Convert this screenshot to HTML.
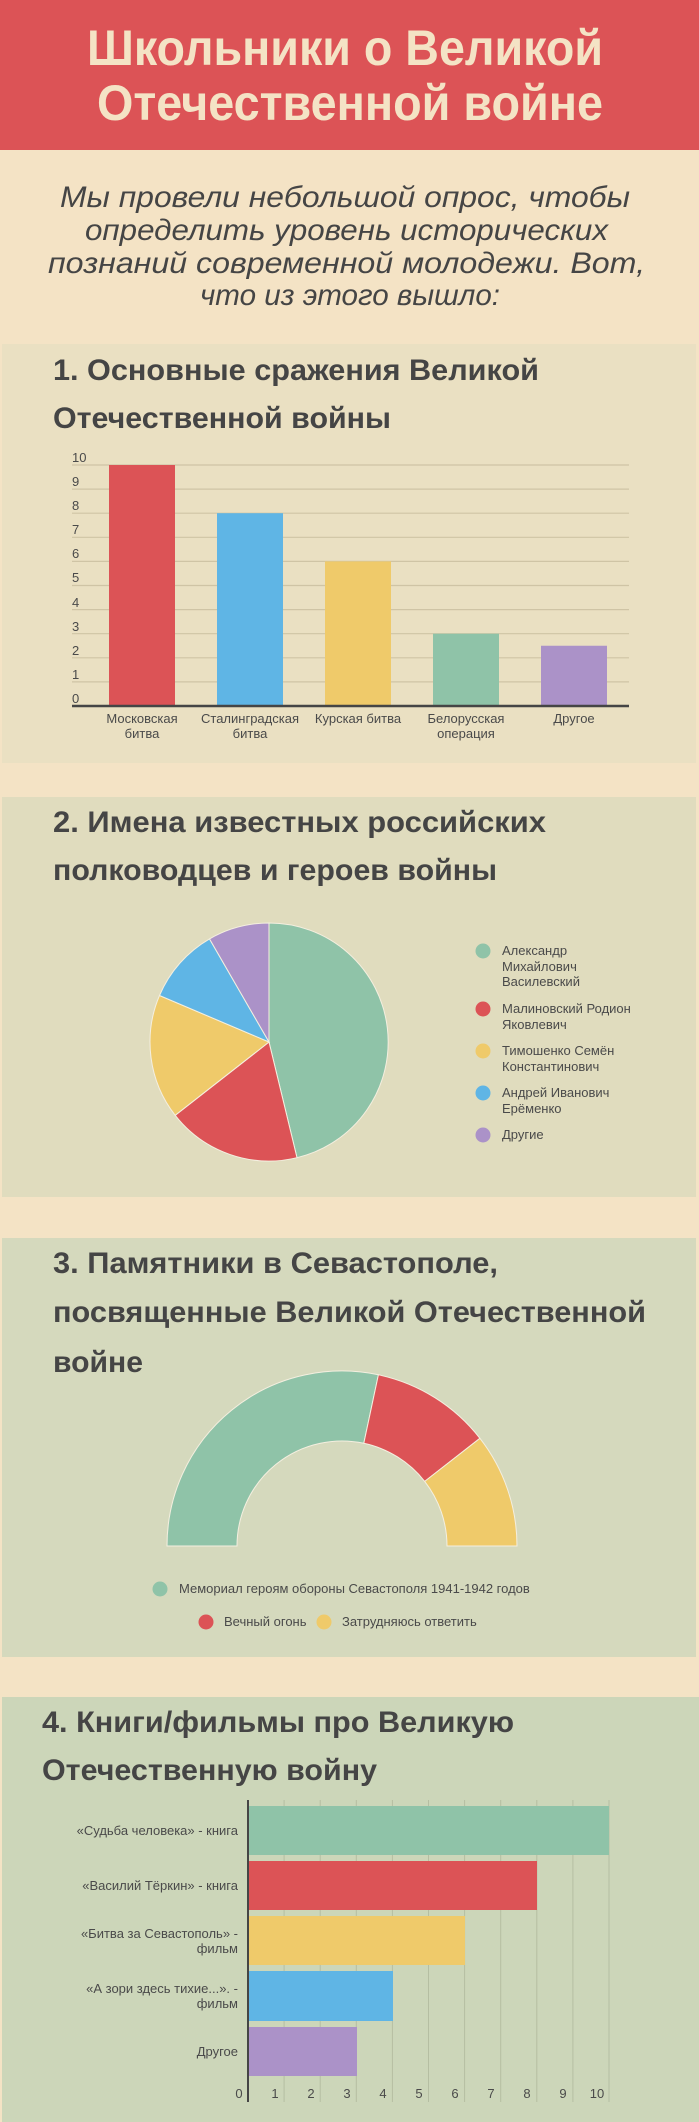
<!DOCTYPE html>
<html><head><meta charset="utf-8"><style>
html,body{margin:0;padding:0;background:#f4e3c5;}
svg{display:block}
.t{font-family:"Liberation Sans Narrow","Liberation Sans","Noto Sans CJK SC",sans-serif;font-weight:bold;fill:#454545;font-size:30px}
.s{font-family:"Liberation Sans Narrow","Liberation Sans",sans-serif;fill:#4a4a4a;font-size:13px}
.n{font-family:"Liberation Sans Narrow","Liberation Sans",sans-serif;fill:#4a4a4a;font-size:13px}
</style></head><body>
<svg width="699" height="2122" viewBox="0 0 699 2122" xmlns="http://www.w3.org/2000/svg">
<rect x="0" y="0" width="699" height="2122" fill="#f4e3c5"/>
<!-- header -->
<rect x="0" y="0" width="699" height="150" fill="#dc5356"/>
<g font-family="Liberation Sans, sans-serif" font-weight="bold" font-size="50" fill="#f4e3c5">
<text x="87" y="65" textLength="516" lengthAdjust="spacingAndGlyphs">Школьники о Великой</text>
<text x="97" y="120" textLength="506" lengthAdjust="spacingAndGlyphs">Отечественной войне</text>
</g>
<g font-family="Liberation Sans, sans-serif" font-style="italic" font-size="30" fill="#454545">
<text x="60" y="207" textLength="570" lengthAdjust="spacingAndGlyphs">Мы провели небольшой опрос, чтобы</text>
<text x="85" y="240" textLength="523" lengthAdjust="spacingAndGlyphs">определить уровень исторических</text>
<text x="48" y="273" textLength="597" lengthAdjust="spacingAndGlyphs">познаний современной молодежи. Вот,</text>
<text x="200" y="305" textLength="300" lengthAdjust="spacingAndGlyphs">что из этого вышло:</text>
</g>

<!-- section 1 -->
<rect x="2" y="344" width="694" height="419" fill="#eae0c2"/>
<text class="t" x="53" y="380" textLength="486" lengthAdjust="spacingAndGlyphs">1. Основные сражения Великой</text>
<text class="t" x="53" y="428" textLength="338" lengthAdjust="spacingAndGlyphs">Отечественной войны</text>
<g stroke="#cfc4a5" stroke-width="1.2">
<line x1="72" x2="629" y1="681.9" y2="681.9"/><line x1="72" x2="629" y1="657.8" y2="657.8"/>
<line x1="72" x2="629" y1="633.7" y2="633.7"/><line x1="72" x2="629" y1="609.6" y2="609.6"/>
<line x1="72" x2="629" y1="585.5" y2="585.5"/><line x1="72" x2="629" y1="561.4" y2="561.4"/>
<line x1="72" x2="629" y1="537.3" y2="537.3"/><line x1="72" x2="629" y1="513.2" y2="513.2"/>
<line x1="72" x2="629" y1="489.1" y2="489.1"/><line x1="72" x2="629" y1="465" y2="465"/>
</g>
<g class="n">
<text class="n" x="72" y="462">10</text><text class="n" x="72" y="486">9</text>
<text class="n" x="72" y="510">8</text><text class="n" x="72" y="534">7</text>
<text class="n" x="72" y="558">6</text><text class="n" x="72" y="582">5</text>
<text class="n" x="72" y="607">4</text><text class="n" x="72" y="631">3</text>
<text class="n" x="72" y="655">2</text><text class="n" x="72" y="679">1</text>
<text class="n" x="72" y="703">0</text>
</g>
<rect x="109" y="465" width="66" height="241" fill="#dc5356"/>
<rect x="217" y="513.2" width="66" height="192.8" fill="#5fb5e5"/>
<rect x="325" y="561.4" width="66" height="144.6" fill="#efca6a"/>
<rect x="433" y="633.7" width="66" height="72.3" fill="#8fc3a8"/>
<rect x="541" y="645.75" width="66" height="60.25" fill="#ab92c8"/>
<line x1="72" x2="629" y1="706" y2="706" stroke="#454545" stroke-width="2.5"/>
<g text-anchor="middle">
<text class="s" x="142" y="723">Московская</text><text class="s" x="142" y="738">битва</text>
<text class="s" x="250" y="723">Сталинградская</text><text class="s" x="250" y="738">битва</text>
<text class="s" x="358" y="723">Курская битва</text>
<text class="s" x="466" y="723">Белорусская</text><text class="s" x="466" y="738">операция</text>
<text class="s" x="574" y="723">Другое</text>
</g>

<!-- section 2 -->
<rect x="2" y="797" width="694" height="400" fill="#e0dcbe"/>
<text class="t" x="53" y="832" textLength="493" lengthAdjust="spacingAndGlyphs">2. Имена известных российских</text>
<text class="t" x="53" y="880" textLength="444" lengthAdjust="spacingAndGlyphs">полководцев и героев войны</text>
<g stroke="#f4efe0" stroke-width="1">
<path d="M269,1042 L269,923 A119,119 0 0 1 297,1157.7 Z" fill="#8fc3a8"/>
<path d="M269,1042 L297,1157.7 A119,119 0 0 1 175.2,1115.3 Z" fill="#dc5356"/>
<path d="M269,1042 L175.2,1115.3 A119,119 0 0 1 159.5,995.5 Z" fill="#efca6a"/>
<path d="M269,1042 L159.5,995.5 A119,119 0 0 1 209.5,938.9 Z" fill="#5fb5e5"/>
<path d="M269,1042 L209.5,938.9 A119,119 0 0 1 269,923 Z" fill="#ab92c8"/>
</g>
<circle cx="483" cy="951" r="7.5" fill="#8fc3a8"/>
<circle cx="483" cy="1009" r="7.5" fill="#dc5356"/>
<circle cx="483" cy="1051" r="7.5" fill="#efca6a"/>
<circle cx="483" cy="1093" r="7.5" fill="#5fb5e5"/>
<circle cx="483" cy="1135" r="7.5" fill="#ab92c8"/>
<text class="s" x="502" y="955">Александр</text>
<text class="s" x="502" y="971">Михайлович</text>
<text class="s" x="502" y="986">Василевский</text>
<text class="s" x="502" y="1013">Малиновский Родион</text>
<text class="s" x="502" y="1029">Яковлевич</text>
<text class="s" x="502" y="1055">Тимошенко Семён</text>
<text class="s" x="502" y="1071">Константинович</text>
<text class="s" x="502" y="1097">Андрей Иванович</text>
<text class="s" x="502" y="1113">Ерёменко</text>
<text class="s" x="502" y="1139">Другие</text>

<!-- section 3 -->
<rect x="2" y="1238" width="694" height="419" fill="#d5d9bd"/>
<text class="t" x="53" y="1273" textLength="445" lengthAdjust="spacingAndGlyphs">3. Памятники в Севастополе,</text>
<text class="t" x="53" y="1322" textLength="593" lengthAdjust="spacingAndGlyphs">посвященные Великой Отечественной</text>
<text class="t" x="53" y="1372" textLength="90" lengthAdjust="spacingAndGlyphs">войне</text>
<g stroke="#f4efe0" stroke-width="1">
<path d="M167,1546 A175,175 0 0 1 378.4,1374.8 L363.8,1443.3 A105,105 0 0 0 237,1546 Z" fill="#8fc3a8"/>
<path d="M378.4,1374.8 A175,175 0 0 1 479.9,1438.3 L424.7,1481.4 A105,105 0 0 0 363.8,1443.3 Z" fill="#dc5356"/>
<path d="M479.9,1438.3 A175,175 0 0 1 517,1546 L447,1546 A105,105 0 0 0 424.7,1481.4 Z" fill="#efca6a"/>
</g>
<circle cx="160" cy="1589" r="7.5" fill="#8fc3a8"/>
<text class="s" x="179" y="1593" font-size="12">Мемориал героям обороны Севастополя 1941-1942 годов</text>
<circle cx="206" cy="1622" r="7.5" fill="#dc5356"/>
<text class="s" x="224" y="1626" font-size="12">Вечный огонь</text>
<circle cx="324" cy="1622" r="7.5" fill="#efca6a"/>
<text class="s" x="342" y="1626" font-size="12">Затрудняюсь ответить</text>

<!-- section 4 -->
<rect x="2" y="1697" width="697" height="425" fill="#ccd6b9"/>
<text class="t" x="42" y="1732" textLength="472" lengthAdjust="spacingAndGlyphs">4. Книги/фильмы про Великую</text>
<text class="t" x="42" y="1780" textLength="335" lengthAdjust="spacingAndGlyphs">Отечественную войну</text>
<g stroke="#b5bea2" stroke-width="1">
<line x1="284.1" x2="284.1" y1="1800" y2="2102"/><line x1="320.2" x2="320.2" y1="1800" y2="2102"/>
<line x1="356.3" x2="356.3" y1="1800" y2="2102"/><line x1="392.4" x2="392.4" y1="1800" y2="2102"/>
<line x1="428.5" x2="428.5" y1="1800" y2="2102"/><line x1="464.6" x2="464.6" y1="1800" y2="2102"/>
<line x1="500.7" x2="500.7" y1="1800" y2="2102"/><line x1="536.8" x2="536.8" y1="1800" y2="2102"/>
<line x1="572.9" x2="572.9" y1="1800" y2="2102"/><line x1="609" x2="609" y1="1800" y2="2102"/>
</g>
<rect x="249" y="1806" width="360" height="49" fill="#8fc3a8"/>
<rect x="249" y="1861" width="288" height="49" fill="#dc5356"/>
<rect x="249" y="1916" width="216" height="49" fill="#efca6a"/>
<rect x="249" y="1971" width="144" height="50" fill="#5fb5e5"/>
<rect x="249" y="2027" width="108" height="49" fill="#ab92c8"/>
<line x1="248" x2="248" y1="1800" y2="2102" stroke="#454545" stroke-width="2"/>
<g text-anchor="end">
<text class="s" x="238" y="1835">«Судьба человека» - книга</text>
<text class="s" x="238" y="1890">«Василий Тёркин» - книга</text>
<text class="s" x="238" y="1938">«Битва за Севастополь» -</text>
<text class="s" x="238" y="1953">фильм</text>
<text class="s" x="238" y="1993">«А зори здесь тихие...». -</text>
<text class="s" x="238" y="2008">фильм</text>
<text class="s" x="238" y="2056">Другое</text>
</g>
<g text-anchor="middle">
<text class="n" x="239" y="2098">0</text><text class="n" x="275" y="2098">1</text>
<text class="n" x="311" y="2098">2</text><text class="n" x="347" y="2098">3</text>
<text class="n" x="383" y="2098">4</text><text class="n" x="419" y="2098">5</text>
<text class="n" x="455" y="2098">6</text><text class="n" x="491" y="2098">7</text>
<text class="n" x="527" y="2098">8</text><text class="n" x="563" y="2098">9</text>
<text class="n" x="597" y="2098">10</text>
</g>
</svg>
</body></html>
